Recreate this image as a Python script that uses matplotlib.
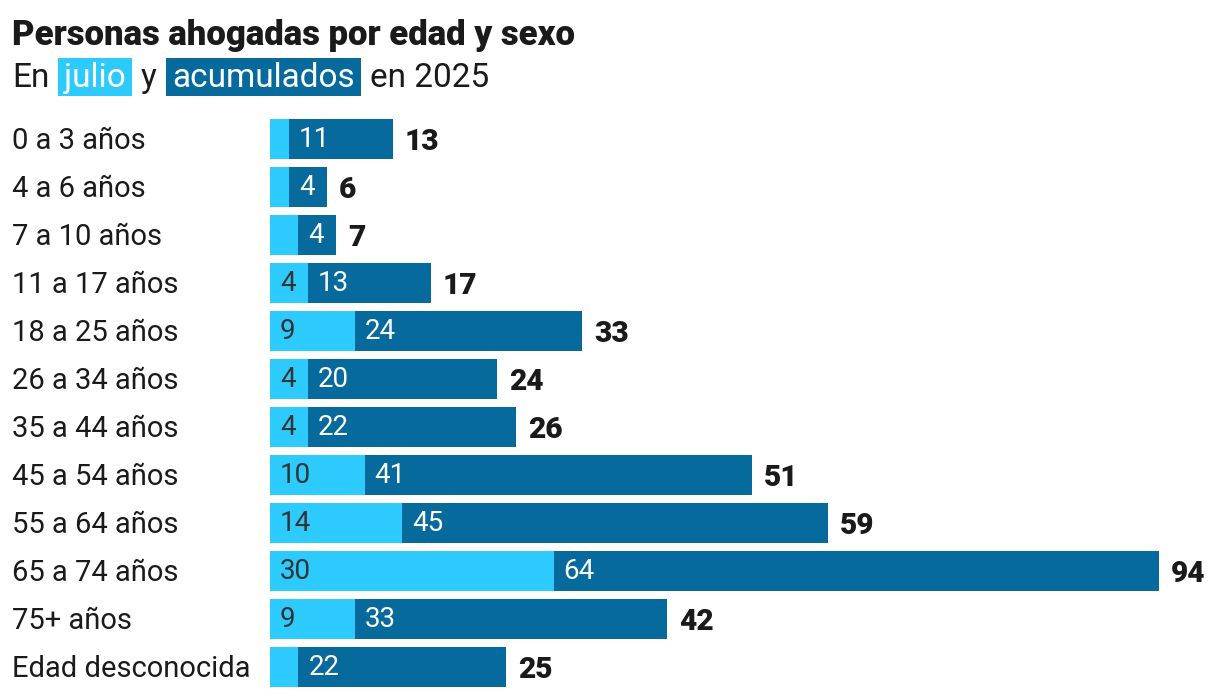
import matplotlib
matplotlib.use("Agg")
import matplotlib.pyplot as plt
from matplotlib.patches import Rectangle

categories = ["0 a 3 años", "4 a 6 años", "7 a 10 años", "11 a 17 años", "18 a 25 años",
              "26 a 34 años", "35 a 44 años", "45 a 54 años", "55 a 64 años",
              "65 a 74 años", "75+ años", "Edad desconocida"]
julio = [2, 2, 3, 4, 9, 4, 4, 10, 14, 30, 9, 3]
resto = [11, 4, 4, 13, 24, 20, 22, 41, 45, 64, 33, 22]
totales = [13, 6, 7, 17, 33, 24, 26, 51, 59, 94, 42, 25]

LIGHT = "#2DCAFE"
DARK = "#066A9C"
TXT = "#1a1a1a"
FAM = ["Roboto", "DejaVu Sans"]

W, H = 1220, 698
fig = plt.figure(figsize=(W / 100, H / 100), dpi=100)
ax = fig.add_axes([270 / W, 1 - 691 / H, 889 / W, 576 / H])
ax.set_xlim(0, 94)
ax.set_ylim(len(categories) - 0.5, -0.5)
ax.axis("off")

y = list(range(len(categories)))
ax.barh(y, julio, height=0.83, color=LIGHT, linewidth=0)
ax.barh(y, resto, left=julio, height=0.83, color=DARK, linewidth=0)

px = 94 / 889.0
for i, cat in enumerate(categories):
    fig.text(12 / W, 1 - (141 + 48 * i) / H, cat, fontsize=21, family=FAM,
             color=TXT, va="center", ha="left")
    if julio[i] >= 4:
        ax.text(10 * px, i + 0.02, str(julio[i]), fontsize=20, family=FAM, color="#333333",
                va="center", ha="left")
    ax.text(julio[i] + 10 * px, i + 0.02, str(resto[i]), fontsize=20, family=FAM,
            color="white", va="center", ha="left")
    ax.text(totales[i] + 12 * px, i + 0.06, str(totales[i]), fontsize=21.5, family=FAM,
            color=TXT, fontweight="heavy", va="center", ha="left")

fig.text(12 / W, 1 - 35 / H, "Personas ahogadas por edad y sexo", fontsize=25,
         family=FAM, fontweight="heavy", color=TXT, va="center", ha="left")

# subtitle with highlighted words
renderer = fig.canvas.get_renderer()
x = 12
ys = 1 - 78 / H
pad = 6
gap = 9
parts = [("En", None, TXT), ("julio", LIGHT, "white"), ("y", None, TXT),
         ("acumulados", DARK, "white"), ("en 2025", None, TXT)]
for txt, bg, col in parts:
    tx = x + (pad if bg else 0)
    t = fig.text(tx / W, ys, txt, fontsize=24, family=FAM, color=col,
                 va="center", ha="left", zorder=3)
    bb = t.get_window_extent(renderer)
    if bg:
        fig.patches.append(Rectangle((x / W, 1 - 96 / H), (bb.width + 2 * pad) / W,
                                     38 / H, transform=fig.transFigure,
                                     facecolor=bg, edgecolor="none", zorder=1))
        x += bb.width + 2 * pad + gap
    else:
        x += bb.width + gap

fig.savefig("out.png", dpi=100, facecolor="white")
